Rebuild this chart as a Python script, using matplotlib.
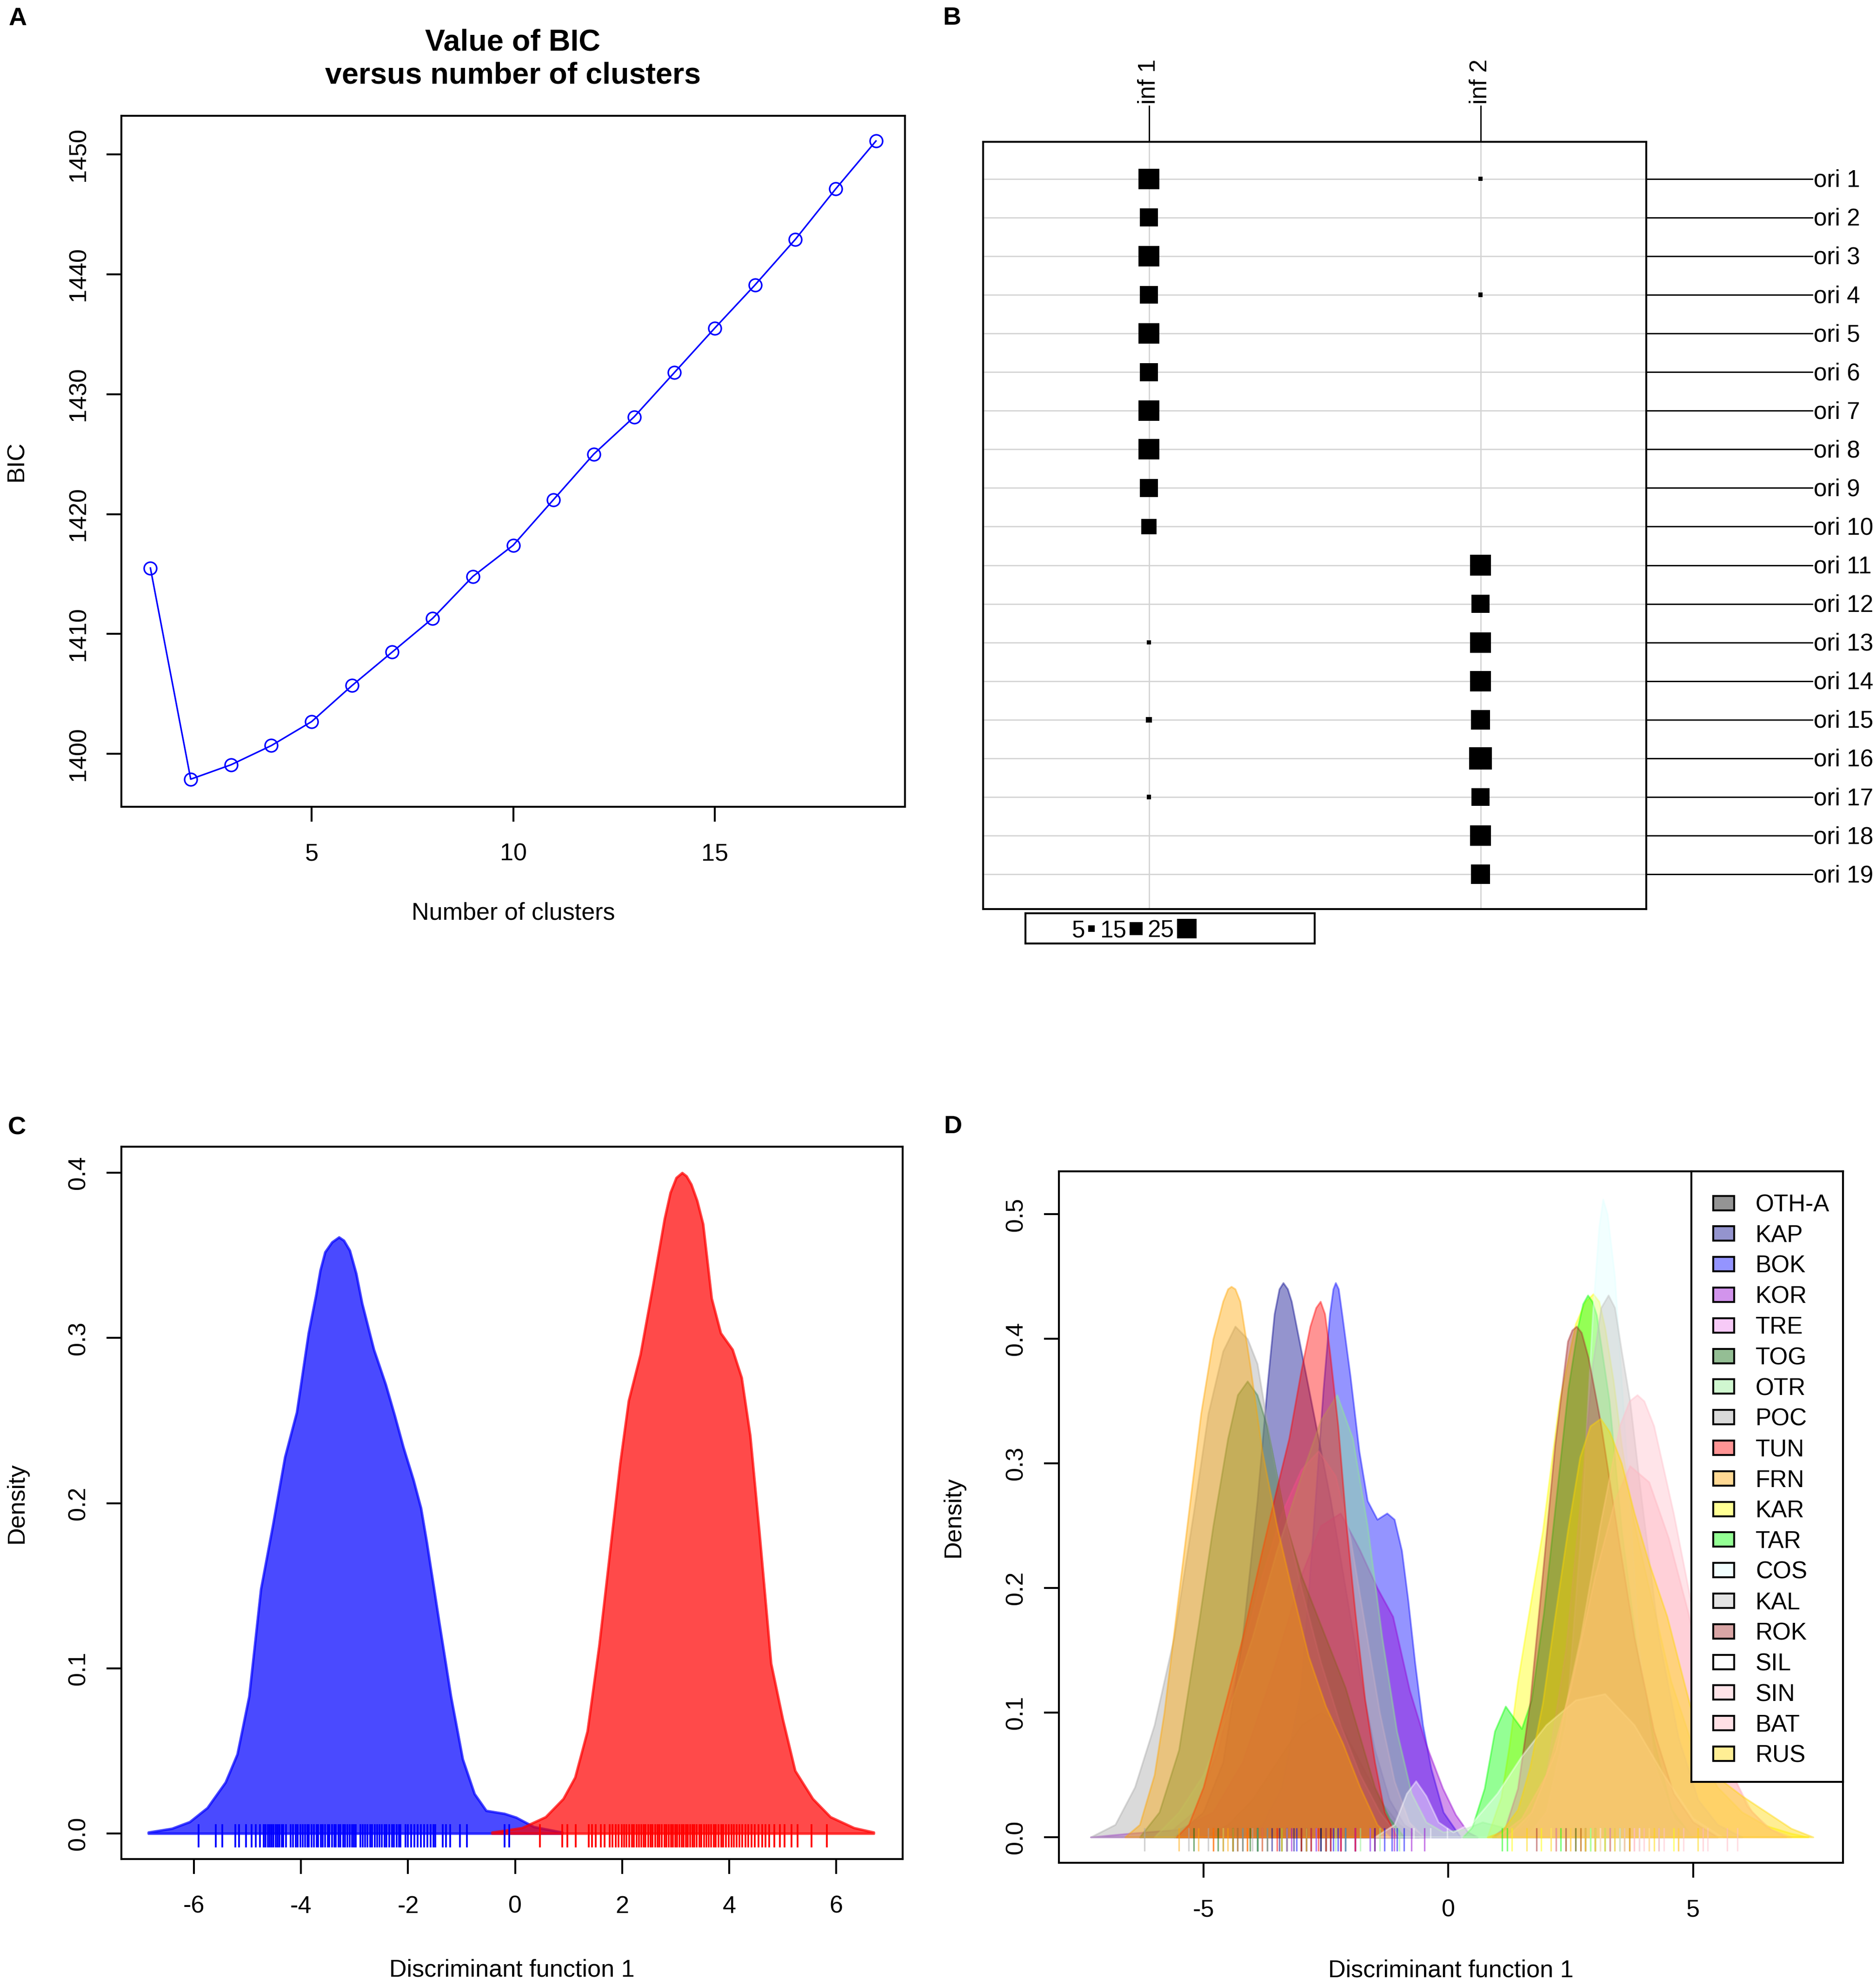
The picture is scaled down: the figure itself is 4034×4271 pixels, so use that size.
import matplotlib
matplotlib.use("Agg")
import matplotlib.pyplot as plt
from matplotlib.patches import Rectangle
from matplotlib.colors import to_rgba
from matplotlib.transforms import offset_copy

W, H, DPI = 4034, 4271, 300

plt.rcParams["font.family"] = ["Liberation Sans", "DejaVu Sans"]
plt.rcParams["axes.unicode_minus"] = False
plt.rcParams["font.size"] = 12.3

# ---------------- panel A: BIC versus number of clusters
n_clusters = list(range(1, 20))
bic_values = [1415.5, 1397.9, 1399.1, 1400.7, 1402.7, 1405.7, 1408.5, 1411.3,
              1414.8, 1417.4, 1421.2, 1425.0, 1428.1, 1431.8, 1435.5, 1439.1,
              1442.9, 1447.1, 1451.1]

# ---------------- panel B: origin x inferred cluster table
origins = ["ori %d" % i for i in range(1, 20)]
inferred = ["inf 1", "inf 2"]
counts_inf1 = [27, 23, 27, 23, 27, 23, 27, 27, 23, 18, 0, 0, 1, 0, 3, 0, 1, 0, 0]
counts_inf2 = [1, 0, 0, 1, 0, 0, 0, 0, 0, 0, 27, 23, 27, 27, 25, 30, 23, 27, 25]
legend_counts = [5, 15, 25]

# ---------------- panel C: density of discriminant function, 2 clusters
c_blue_x = [-6.85, -6.41, -6.08, -5.75, -5.41, -5.19, -4.97, -4.75, -4.53, -4.30,
            -4.08, -3.86, -3.72, -3.64, -3.55, -3.42, -3.29, -3.2, -3.09, -2.97,
            -2.86, -2.64, -2.42, -2.25, -2.09, -1.90, -1.76, -1.65, -1.42, -1.20,
            -0.98, -0.76, -0.54, -0.20, 0.02, 0.35, 0.88]
c_blue_y = [0.0007, 0.003, 0.007, 0.0155, 0.031, 0.048, 0.083, 0.148, 0.186, 0.228,
            0.255, 0.303, 0.326, 0.341, 0.352, 0.358, 0.361, 0.359, 0.353, 0.339,
            0.321, 0.293, 0.272, 0.253, 0.234, 0.214, 0.197, 0.176, 0.128, 0.083,
            0.045, 0.024, 0.0138, 0.012, 0.0097, 0.004, 0.0007]
c_red_x = [-0.43, 0.13, 0.57, 0.90, 1.12, 1.35, 1.57, 1.79, 1.96, 2.12, 2.34, 2.57,
           2.79, 2.90, 3.01, 3.12, 3.20, 3.29, 3.40, 3.51, 3.67, 3.84, 4.06, 4.23,
           4.39, 4.56, 4.78, 5.00, 5.23, 5.56, 5.89, 6.33, 6.70]
c_red_y = [0.0007, 0.0034, 0.010, 0.021, 0.034, 0.062, 0.114, 0.176, 0.224, 0.262,
           0.290, 0.331, 0.372, 0.388, 0.397, 0.400, 0.398, 0.393, 0.383, 0.369,
           0.324, 0.303, 0.293, 0.276, 0.241, 0.183, 0.103, 0.069, 0.038, 0.021,
           0.010, 0.0034, 0.0007]
c_blue_rug = [-5.91, -5.59, -5.47, -5.23, -5.16, -5.03, -4.92, -4.84, -4.77, -4.70,
              -4.66, -4.62, -4.58, -4.55, -4.51, -4.47, -4.44, -4.40, -4.36, -4.33,
              -4.28, -4.19, -4.15, -4.10, -4.06, -4.01, -3.97, -3.92, -3.88, -3.85,
              -3.80, -3.76, -3.71, -3.68, -3.63, -3.59, -3.55, -3.50, -3.47, -3.42,
              -3.38, -3.35, -3.30, -3.26, -3.21, -3.18, -3.13, -3.09, -3.05, -3.01,
              -2.98, -2.89, -2.85, -2.80, -2.76, -2.71, -2.67, -2.62, -2.58, -2.53,
              -2.49, -2.44, -2.40, -2.35, -2.30, -2.26, -2.21, -2.17, -2.14, -2.05,
              -2.00, -1.94, -1.88, -1.82, -1.76, -1.70, -1.64, -1.58, -1.53, -1.49,
              -1.35, -1.29, -1.21, -1.03, -0.90, -0.20, -0.11]
c_red_rug = [0.46, 0.88, 0.98, 1.13, 1.38, 1.44, 1.51, 1.60, 1.67, 1.77, 1.82, 1.88,
             1.93, 1.99, 2.04, 2.08, 2.13, 2.18, 2.22, 2.27, 2.31, 2.36, 2.40, 2.44,
             2.49, 2.53, 2.57, 2.62, 2.66, 2.70, 2.74, 2.79, 2.83, 2.87, 2.91, 2.95,
             2.99, 3.03, 3.07, 3.11, 3.15, 3.19, 3.23, 3.27, 3.31, 3.35, 3.39, 3.44,
             3.48, 3.53, 3.57, 3.62, 3.66, 3.71, 3.75, 3.80, 3.85, 3.89, 3.94, 3.99,
             4.04, 4.09, 4.14, 4.19, 4.24, 4.30, 4.36, 4.42, 4.48, 4.55, 4.62, 4.68,
             4.75, 4.84, 4.95, 5.03, 5.16, 5.28, 5.54, 5.82]

# ---------------- panel D: density per origin
groups = ["OTH-A", "KAP", "BOK", "KOR", "TRE", "TOG", "OTR", "POC", "TUN", "FRN",
          "KAR", "TAR", "COS", "KAL", "ROK", "SIL", "SIN", "BAT", "RUS"]
group_colors = ["black", "darkblue", "blue", "darkviolet", "violet", "darkgreen",
                "lightgreen", "darkgray", "red", "orange", "yellow", "lime",
                "lightcyan", "silver", "brown", "white", "pink", "lightpink", "gold"]

otha_x = [-5.0, -4.5, -4.0, -3.5, -3.0, -2.6, -2.2, -1.8, -1.4, -1.0, -0.6]
otha_y = [0.0, 0.01, 0.03, 0.06, 0.09, 0.10, 0.09, 0.06, 0.03, 0.01, 0.0]
kap_x = [-5.6, -5.0, -4.6, -4.2, -3.9, -3.7, -3.55, -3.45, -3.37, -3.28, -3.2, -3.05,
         -2.85, -2.65, -2.4, -2.1, -1.8, -1.5, -1.2, -0.9, -0.5]
kap_y = [0.0, 0.02, 0.06, 0.16, 0.27, 0.36, 0.42, 0.44, 0.445, 0.44, 0.43, 0.40,
         0.36, 0.32, 0.27, 0.2, 0.13, 0.07, 0.03, 0.01, 0.0]
bok_x = [-4.3, -3.8, -3.4, -3.0, -2.75, -2.55, -2.42, -2.35, -2.3, -2.24, -2.17, -2.0,
         -1.82, -1.65, -1.45, -1.25, -1.1, -0.95, -0.82, -0.68, -0.52, -0.35, -0.1, 0.25]
bok_y = [0.0, 0.01, 0.04, 0.12, 0.25, 0.36, 0.42, 0.44, 0.445, 0.44, 0.42, 0.37,
         0.31, 0.27, 0.255, 0.26, 0.255, 0.23, 0.19, 0.14, 0.09, 0.055, 0.02, 0.0]
kor_x = [-7.3, -6.5, -5.5, -4.8, -4.2, -3.6, -3.0, -2.6, -2.2, -1.8, -1.45, -1.13,
         -0.79, -0.45, -0.11, 0.15, 0.4, 0.6]
kor_y = [0.0, 0.003, 0.006, 0.02, 0.06, 0.13, 0.21, 0.25, 0.26, 0.23, 0.2, 0.177,
         0.118, 0.074, 0.039, 0.018, 0.004, 0.0]
tre_x = [-5.8, -5.2, -4.7, -4.2, -3.8, -3.4, -3.0, -2.65, -2.3, -2.0, -1.7, -1.4,
         -1.1, -0.8, -0.5]
tre_y = [0.0, 0.02, 0.07, 0.15, 0.21, 0.26, 0.295, 0.31, 0.29, 0.24, 0.17, 0.1,
         0.045, 0.012, 0.0]
tog_x = [-6.3, -5.9, -5.5, -5.1, -4.8, -4.5, -4.3, -4.1, -3.9, -3.7, -3.5, -3.3,
         -3.0, -2.7, -2.4, -2.1, -1.8, -1.5, -1.2, -0.9]
tog_y = [0.0, 0.02, 0.07, 0.17, 0.25, 0.32, 0.355, 0.366, 0.355, 0.33, 0.29, 0.25,
         0.21, 0.18, 0.15, 0.12, 0.08, 0.04, 0.015, 0.0]
otr_x = [-6.0, -5.5, -5.0, -4.5, -4.0, -3.5, -3.0, -2.6, -2.27, -1.95, -1.65, -1.35,
         -1.05, -0.75, -0.45, -0.1, 0.3, 0.7, 1.1, 1.5]
otr_y = [0.0, 0.02, 0.05, 0.1, 0.16, 0.23, 0.29, 0.335, 0.355, 0.32, 0.25, 0.16,
         0.085, 0.035, 0.012, 0.004, 0.006, 0.012, 0.008, 0.0]
poc_x = [-7.3, -6.8, -6.4, -6.0, -5.6, -5.2, -4.9, -4.6, -4.35, -4.1, -3.9, -3.6,
         -3.3, -3.0, -2.6, -2.2, -1.8, -1.4, -1.0]
poc_y = [0.0, 0.01, 0.04, 0.09, 0.16, 0.26, 0.34, 0.39, 0.41, 0.40, 0.38, 0.31,
         0.25, 0.2, 0.14, 0.09, 0.05, 0.02, 0.0]
tun_x = [-5.55, -5.3, -5.0, -4.6, -4.2, -3.8, -3.5, -3.25, -3.0, -2.82, -2.7, -2.61,
         -2.52, -2.42, -2.25, -2.08, -1.9, -1.7, -1.5, -1.3, -1.05]
tun_y = [0.0, 0.01, 0.04, 0.1, 0.16, 0.23, 0.28, 0.32, 0.375, 0.41, 0.425, 0.43,
         0.42, 0.39, 0.33, 0.25, 0.18, 0.11, 0.06, 0.02, 0.0]
frn_x = [-6.6, -6.3, -6.0, -5.8, -5.55, -5.3, -5.05, -4.8, -4.6, -4.5, -4.43, -4.35,
         -4.25, -4.05, -3.8, -3.5, -3.2, -2.85, -2.5, -2.15, -1.8, -1.45, -1.2]
frn_y = [0.0, 0.01, 0.05, 0.1, 0.18, 0.26, 0.34, 0.4, 0.43, 0.44, 0.442, 0.44,
         0.43, 0.38, 0.31, 0.25, 0.2, 0.145, 0.105, 0.075, 0.04, 0.01, 0.0]
kar_x = [0.8, 1.08, 1.25, 1.42, 1.65, 1.93, 2.27, 2.6, 2.8, 2.96, 3.08, 3.2, 3.37,
         3.54, 3.79, 4.13, 4.55, 4.98, 5.5, 6.0, 6.5, 7.0, 7.35]
kar_y = [0.0, 0.032, 0.074, 0.125, 0.18, 0.246, 0.35, 0.412, 0.43, 0.436, 0.43,
         0.409, 0.367, 0.315, 0.253, 0.195, 0.125, 0.074, 0.04, 0.02, 0.009, 0.003, 0.0]
tar_x = [0.3, 0.49, 0.74, 0.95, 1.17, 1.35, 1.5, 1.7, 1.95, 2.2, 2.45, 2.65, 2.75,
         2.85, 2.94, 3.03, 3.29, 3.54, 3.88, 4.22, 4.56, 4.98]
tar_y = [0.0, 0.008, 0.039, 0.085, 0.105, 0.095, 0.087, 0.11, 0.18, 0.27, 0.36, 0.41,
         0.428, 0.435, 0.43, 0.419, 0.35, 0.246, 0.143, 0.074, 0.022, 0.0]
cos_x = [1.6, 2.0, 2.4, 2.7, 2.95, 3.08, 3.16, 3.25, 3.4, 3.65, 3.9, 4.2, 4.6, 5.0]
cos_y = [0.0, 0.02, 0.09, 0.24, 0.42, 0.49, 0.512, 0.5, 0.45, 0.3, 0.15, 0.06, 0.015, 0.0]
kal_x = [1.2, 1.6, 2.0, 2.4, 2.7, 2.95, 3.12, 3.27, 3.4, 3.54, 3.71, 3.95, 4.3, 4.7,
         5.1, 5.5, 6.0]
kal_y = [0.0, 0.012, 0.05, 0.15, 0.27, 0.38, 0.425, 0.435, 0.425, 0.39, 0.35, 0.27,
         0.16, 0.08, 0.03, 0.01, 0.0]
rok_x = [0.9, 1.17, 1.42, 1.67, 1.93, 2.18, 2.44, 2.53, 2.62, 2.72, 2.86, 3.11, 3.45,
         3.8, 4.2, 4.6, 5.0, 5.5]
rok_y = [0.0, 0.008, 0.039, 0.108, 0.212, 0.315, 0.398, 0.407, 0.41, 0.405, 0.385,
         0.333, 0.246, 0.16, 0.085, 0.035, 0.012, 0.0]
sil_x = [-1.5, -1.1, -0.85, -0.66, -0.45, -0.2, 0.1, 0.5, 1.0, 1.5, 2.0, 2.6, 3.2,
         3.8, 4.4, 5.0, 5.6]
sil_y = [0.0, 0.01, 0.035, 0.045, 0.033, 0.012, 0.004, 0.012, 0.035, 0.065, 0.09,
         0.11, 0.115, 0.09, 0.05, 0.015, 0.0]
sin_x = [1.2, 1.7, 2.2, 2.7, 3.1, 3.5, 3.7, 3.86, 4.0, 4.2, 4.6, 5.0, 5.4, 5.8, 6.2,
         6.6, 7.0]
sin_y = [0.0, 0.02, 0.07, 0.16, 0.25, 0.33, 0.35, 0.355, 0.35, 0.33, 0.26, 0.18, 0.1,
         0.05, 0.02, 0.006, 0.0]
bat_x = [1.0, 1.5, 2.0, 2.5, 3.0, 3.4, 3.71, 4.1, 4.5, 4.9, 5.3, 5.7, 6.1, 6.5, 6.9]
bat_y = [0.0, 0.015, 0.05, 0.12, 0.21, 0.27, 0.298, 0.285, 0.24, 0.18, 0.11, 0.06,
         0.025, 0.008, 0.0]
rus_x = [0.8, 1.08, 1.42, 1.67, 1.93, 2.18, 2.44, 2.69, 2.9, 3.11, 3.3, 3.54, 3.8,
         4.1, 4.47, 4.81, 5.15, 5.5, 6.0, 6.5, 7.0, 7.45]
rus_y = [0.0, 0.004, 0.022, 0.056, 0.108, 0.177, 0.246, 0.305, 0.33, 0.336, 0.325,
         0.3, 0.26, 0.22, 0.177, 0.125, 0.074, 0.048, 0.033, 0.02, 0.007, 0.0]

otha_rug = [-4.4, -3.9, -3.3, -2.9, -2.6, -2.2, -1.9, -1.5]
kap_rug = [-4.3, -3.9, -3.6, -3.45, -3.3, -3.15, -3.0, -2.8, -2.6, -2.4, -2.1]
bok_rug = [-3.1, -2.7, -2.5, -2.35, -2.25, -2.1, -1.9, -1.6, -1.3, -1.15, -1.05, -0.9]
kor_rug = [-3.8, -3.2, -2.9, -2.5, -2.2, -1.9, -1.5, -1.1, -0.75, -0.49]
tre_rug = [-4.2, -3.7, -3.3, -3.0, -2.7, -2.5, -2.2, -1.9, -1.6]
tog_rug = [-5.2, -4.7, -4.4, -4.2, -4.05, -3.9, -3.7, -3.4, -3.0, -2.5]
otr_rug = [-4.6, -3.9, -3.4, -2.9, -2.5, -2.3, -2.1, -1.8, -1.4, -1.0]
poc_rug = [-6.2, -5.3, -4.9, -4.6, -4.4, -4.2, -4.0, -3.7, -3.3, -2.8]
tun_rug = [-4.8, -4.1, -3.5, -3.0, -2.8, -2.65, -2.5, -2.4, -2.2, -1.9]
frn_rug = [-5.5, -5.1, -4.8, -4.6, -4.5, -4.4, -4.3, -4.1, -3.8, -3.4, -2.9]
kar_rug = [1.3, 1.9, 2.4, 2.7, 2.9, 3.0, 3.1, 3.3, 3.6, 4.1, 4.6]
tar_rug = [1.1, 1.2, 2.3, 2.6, 2.8, 2.9, 3.0, 3.2, 3.5]
cos_rug = [2.9, 3.1, 3.2, 3.3, 3.5]
kal_rug = [2.4, 2.8, 3.0, 3.2, 3.3, 3.4, 3.6, 3.9, 4.3]
rok_rug = [1.8, 2.2, 2.4, 2.6, 2.7, 2.8, 3.0, 3.3, 3.7]
sil_rug = [-0.7, -0.36, -0.02, 2.1, 3.0, 3.9]
sin_rug = [2.5, 3.1, 3.5, 3.8, 3.9, 4.1, 4.4, 4.8, 5.3, 5.9]
bat_rug = [2.2, 2.8, 3.3, 3.6, 3.8, 4.0, 4.3, 4.7, 5.2, 5.7]
rus_rug = [1.6, 2.1, 2.5, 2.8, 3.0, 3.2, 3.4, 3.7, 4.2, 4.7, 5.1]

d_curves = [(otha_x, otha_y), (kap_x, kap_y), (bok_x, bok_y), (kor_x, kor_y),
            (tre_x, tre_y), (tog_x, tog_y), (otr_x, otr_y), (poc_x, poc_y),
            (tun_x, tun_y), (frn_x, frn_y), (kar_x, kar_y), (tar_x, tar_y),
            (cos_x, cos_y), (kal_x, kal_y), (rok_x, rok_y), (sil_x, sil_y),
            (sin_x, sin_y), (bat_x, bat_y), (rus_x, rus_y)]
d_rugs = [otha_rug, kap_rug, bok_rug, kor_rug, tre_rug, tog_rug, otr_rug, poc_rug,
          tun_rug, frn_rug, kar_rug, tar_rug, cos_rug, kal_rug, rok_rug, sil_rug,
          sin_rug, bat_rug, rus_rug]


fig = plt.figure(figsize=(W / DPI, H / DPI), dpi=DPI)


def add_ax(left, top, right, bottom):
    # box given in output pixels
    return fig.add_axes([left / W, 1 - bottom / H, (right - left) / W, (bottom - top) / H])


def r_style(ax, xpad=11, ypad=8.5):
    for s in ax.spines.values():
        s.set_linewidth(1.0)
    ax.tick_params(direction="out", length=7.7, width=1.0, labelsize=12.5)
    ax.tick_params(axis="x", pad=xpad)
    ax.tick_params(axis="y", pad=ypad, labelrotation=90)
    plt.setp(ax.get_yticklabels(), va="center")


def set_labels(ax, box, xlabel, ylabel, xlab_px, ylab_px):
    left, top, right, bottom = box
    ax.set_xlabel(xlabel, fontsize=12.5, va="center")
    ax.set_ylabel(ylabel, fontsize=12.5, va="center")
    ax.xaxis.set_label_coords(0.5, -(xlab_px - bottom) / (bottom - top))
    ax.yaxis.set_label_coords(-(left - ylab_px) / (right - left), 0.5)


def panel_letter(x, y, letter):
    fig.text(x / W, 1 - y / H, letter, ha="center", va="center",
             fontsize=13, fontweight="bold")


# ---------------- A
box_a = (261, 249, 1946, 1735)
ax_a = add_ax(*box_a)
ax_a.plot(n_clusters, bic_values, color="blue", lw=0.8, marker="o", mfc="none",
          mec="blue", ms=6.5, mew=0.8)
ax_a.set_xlim(0.28, 19.72)
ax_a.set_ylim(1395.6, 1453.2)
ax_a.set_xticks([5, 10, 15])
ax_a.set_yticks([1400, 1410, 1420, 1430, 1440, 1450])
r_style(ax_a)
set_labels(ax_a, box_a, "Number of clusters", "BIC", 1964, 36)
fig.text(1103 / W, 1 - 127 / H, "Value of BIC\nversus number of clusters",
         ha="center", va="center", fontsize=15.5, fontweight="bold", linespacing=1.25)
panel_letter(38, 40, "A")

# ---------------- B
box_b = (2114, 305, 3540, 1955)
ax_b = add_ax(*box_b)
ax_b.set_xlim(0.5, 2.5)
ax_b.set_ylim(19.9, 0.04)
ax_b.set_xticks([])
ax_b.set_yticks([])
for s in ax_b.spines.values():
    s.set_linewidth(1.0)
rows = list(range(1, len(origins) + 1))
cols = [1, 2]
for r in rows:
    ax_b.axhline(r, color="#d3d3d3", lw=0.65, zorder=1)
for c in cols:
    ax_b.axvline(c, color="#d3d3d3", lw=0.65, zorder=1)


def square_area(v):
    # side grows linearly with the count (plus border), in output pixels
    side_pt = (1.34 * v + 8) * 72 / DPI
    return side_pt ** 2


for c, counts in zip(cols, [counts_inf1, counts_inf2]):
    ys = [r for r, v in zip(rows, counts) if v > 0]
    vs = [v for v in counts if v > 0]
    ax_b.scatter([c] * len(ys), ys, s=[square_area(v) for v in vs], marker="s",
                 color="black", linewidths=0, zorder=3)

row_text = offset_copy(ax_b.transData, fig=fig, x=3, y=-17, units="dots")
for r, name in zip(rows, origins):
    ax_b.plot([2.5, 3.0], [r, r], color="black", lw=0.7, clip_on=False)
    ax_b.text(3.0, r, name, ha="left", va="baseline", fontsize=12.3,
              transform=row_text, clip_on=False)
col_text = offset_copy(ax_b.transData, fig=fig, x=0, y=4, units="dots")
for c, name in zip(cols, inferred):
    ax_b.plot([c, c], [0.04, -0.89], color="black", lw=0.7, clip_on=False)
    ax_b.text(c, -0.89, name, ha="center", va="bottom", rotation=90,
              fontsize=12.3, transform=col_text, clip_on=False)

# size legend of panel B, laid out in its own pixel-unit box
ax_bl = add_ax(2205, 1964, 2827, 2029)
ax_bl.set_xlim(0, 622)
ax_bl.set_ylim(65, 0)
ax_bl.set_xticks([])
ax_bl.set_yticks([])
for s in ax_bl.spines.values():
    s.set_linewidth(1.0)
leg_text_right = [128, 217, 320]
leg_square_x = [141.5, 237.7, 346.6]
for v, tx, sx in zip(legend_counts, leg_text_right, leg_square_x):
    ax_bl.text(tx, 33 + 18, str(v), ha="right", va="baseline", fontsize=12.3)
    ax_bl.scatter([sx], [33], s=square_area(v), marker="s", color="black",
                  linewidths=0, clip_on=False)
panel_letter(2047, 39, "B")

# ---------------- C
box_c = (261, 2466, 1941, 3998)
ax_c = add_ax(*box_c)
blue_rgba = to_rgba("blue", 0.71)
red_rgba = to_rgba("red", 0.71)
ax_c.fill_between(c_blue_x, c_blue_y, 0, facecolor=blue_rgba, edgecolor=blue_rgba, lw=1.3)
ax_c.fill_between(c_red_x, c_red_y, 0, facecolor=red_rgba, edgecolor=red_rgba, lw=1.3)
rug_c = offset_copy(ax_c.transData, fig=fig, y=-5, units="dots")
ax_c.plot(c_blue_rug, [0] * len(c_blue_rug), ls="none", marker="|", ms=12.2, mew=0.9,
          color="blue", transform=rug_c)
ax_c.plot(c_red_rug, [0] * len(c_red_rug), ls="none", marker="|", ms=12.2, mew=0.9,
          color="red", transform=rug_c)
ax_c.set_xlim(-7.355, 7.24)
ax_c.set_ylim(-0.0155, 0.4158)
ax_c.set_xticks([-6, -4, -2, 0, 2, 4, 6])
ax_c.set_yticks([0.0, 0.1, 0.2, 0.3, 0.4])
ax_c.set_yticklabels(["0.0", "0.1", "0.2", "0.3", "0.4"])
r_style(ax_c)
set_labels(ax_c, box_c, "Discriminant function 1", "Density", 4237, 36)
panel_letter(36, 2426, "C")

# ---------------- D
box_d = (2277, 2519, 3963, 4006)
ax_d = add_ax(*box_d)
rug_d = offset_copy(ax_d.transData, fig=fig, y=-5, units="dots")
for (xs, ys), col in zip(d_curves, group_colors):
    rgba = to_rgba(col, 0.42)
    ax_d.fill_between(xs, ys, 0, facecolor=rgba, edgecolor=rgba, lw=0.9)
for rug, col in zip(d_rugs, group_colors):
    ax_d.plot(rug, [0] * len(rug), ls="none", marker="|", ms=12.2, mew=0.8,
              color=to_rgba(col, 0.5), transform=rug_d)
ax_d.set_xlim(-7.95, 8.06)
ax_d.set_ylim(-0.0206, 0.5345)
ax_d.set_xticks([-5, 0, 5])
ax_d.set_yticks([0.0, 0.1, 0.2, 0.3, 0.4, 0.5])
ax_d.set_yticklabels(["0.0", "0.1", "0.2", "0.3", "0.4", "0.5"])
r_style(ax_d)
set_labels(ax_d, box_d, "Discriminant function 1", "Density", 4238, 2050)

# legend of panel D in a pixel-unit box at the top right corner
ax_dl = add_ax(3637, 2519, 3963, 3832)
ax_dl.set_xlim(0, 326)
ax_dl.set_ylim(1313, 0)
ax_dl.set_xticks([])
ax_dl.set_yticks([])
ax_dl.patch.set_facecolor("white")
for s in ax_dl.spines.values():
    s.set_linewidth(1.0)
for i, (name, col) in enumerate(zip(groups, group_colors)):
    yc = 68 + 65.8 * i
    ax_dl.add_patch(Rectangle((47, yc - 15.5), 45, 31, facecolor=to_rgba(col, 0.42),
                              edgecolor="black", lw=1.0))
    ax_dl.text(138, yc + 18.3, name, ha="left", va="baseline", fontsize=12.3)
panel_letter(2049, 2423, "D")

fig.savefig("out.png", dpi=DPI)
